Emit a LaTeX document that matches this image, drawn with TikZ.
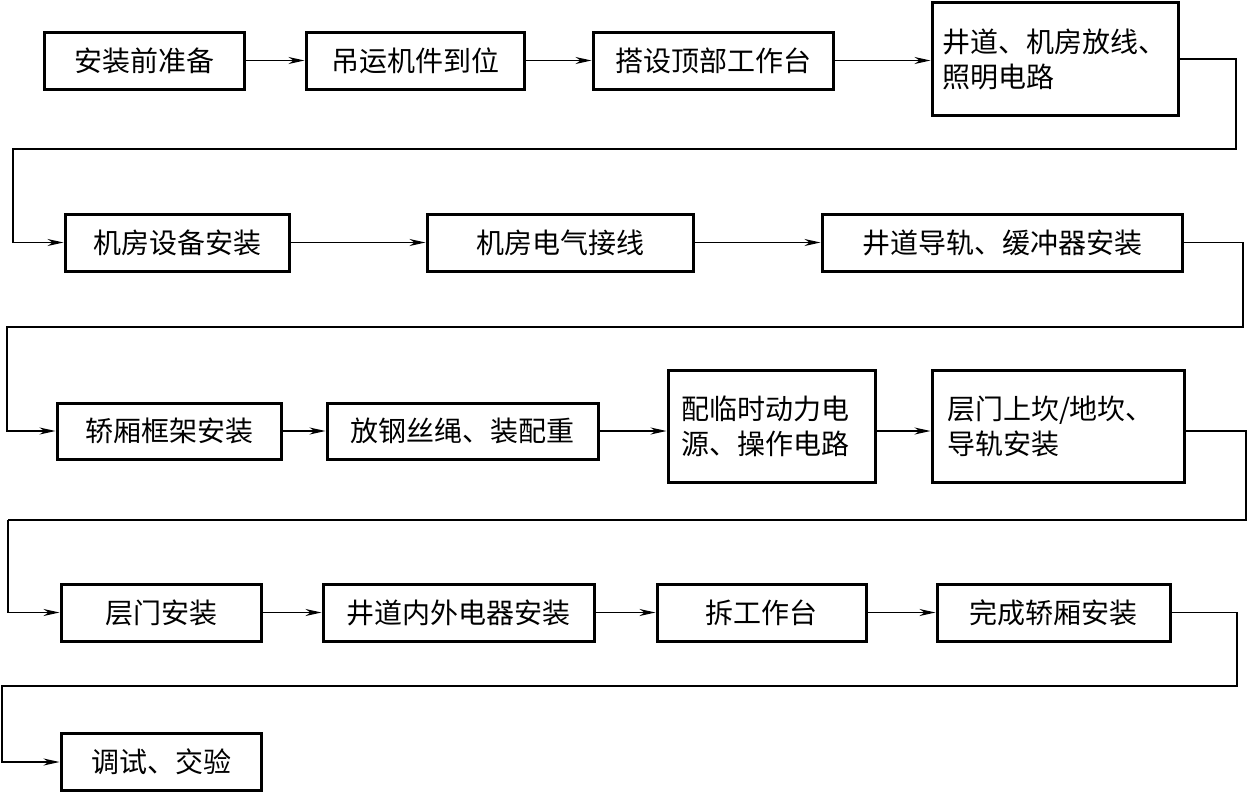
\documentclass[tikz,border=0pt]{standalone}
\usepackage{fontspec}
\newfontfamily\cjk{Noto Sans CJK SC}
\usetikzlibrary{arrows.meta}
\begin{document}
\begin{tikzpicture}[x=1pt,y=-1pt,
  box/.style={draw,line width=3pt,inner sep=0pt,font=\cjk\fontsize{28}{35}\selectfont,anchor=center},
  twoline/.style={box,align=left,text width=#1},
  link/.style={line width=1.3pt,-{Stealth[length=16pt,width=7pt,inset=5pt]}},
  plain/.style={line width=1.3pt}]
\useasboundingbox (0,0) rectangle (1248,793);
% row 1
\node[box,minimum width=200pt,minimum height=57pt] (a1) at (144,60.5) {安装前准备};
\node[box,minimum width=218pt,minimum height=57pt] (a2) at (415,60.5) {吊运机件到位};
\node[box,minimum width=240pt,minimum height=57pt] (a3) at (713,60.5) {搭设顶部工作台};
\node[twoline=226pt,minimum width=246pt,minimum height=113pt] (a4) at (1055,59) {井道、机房放线、\\照明电路};
% row 2
\node[box,minimum width=224pt,minimum height=57pt] (b1) at (177,242.5) {机房设备安装};
\node[box,minimum width=266pt,minimum height=57pt] (b2) at (560,242.5) {机房电气接线};
\node[box,minimum width=360pt,minimum height=57pt] (b3) at (1002,242.5) {井道导轨、缓冲器安装};
% row 3
\node[box,minimum width=224pt,minimum height=56pt] (c1) at (169,431) {轿厢框架安装};
\node[box,minimum width=271pt,minimum height=56pt] (c2) at (462.5,431) {放钢丝绳、装配重};
\node[twoline=180pt,minimum width=207pt,minimum height=112pt] (c3) at (771.5,426) {配临时动力电\\源、操作电路};
\node[twoline=222pt,minimum width=252pt,minimum height=112pt] (c4) at (1058,426) {层门上坎/地坎、\\导轨安装};
% row 4
\node[box,minimum width=200pt,minimum height=57pt] (d1) at (161,612.5) {层门安装};
\node[box,minimum width=271pt,minimum height=57pt] (d2) at (458.5,612.5) {井道内外电器安装};
\node[box,minimum width=209pt,minimum height=57pt] (d3) at (761.5,612.5) {拆工作台};
\node[box,minimum width=233pt,minimum height=57pt] (d4) at (1053.5,612.5) {完成轿厢安装};
% row 5
\node[box,minimum width=200pt,minimum height=57pt] (e1) at (161,762) {调试、交验};
% coordinates for loops
\coordinate (r1a) at (1236,59);
\coordinate (r1b) at (1236,149);
\coordinate (r1c) at (13,149);
\coordinate (r2a) at (1243,242.5);
\coordinate (r2b) at (1243,327);
\coordinate (r2c) at (7,327);
\coordinate (r3a) at (1246,431);
\coordinate (r3b) at (1246,520);
\coordinate (r3c) at (8,520);
\coordinate (r4a) at (1237,612.5);
\coordinate (r4b) at (1237,686);
\coordinate (r4c) at (2,686);
% connectors
\draw[link] (a1) -- (a2);
\draw[link] (a2) -- (a3);
\draw[link] (a3.east) -- (a3.east -| a4.west);
\draw[link] (a4.east) -- (r1a) -- (r1b) -- (r1c) |- (b1.west);
\draw[link] (b1) -- (b2);
\draw[link] (b2) -- (b3);
\draw[link] (b3.east) -- (r2a) -- (r2b) -- (r2c) |- (c1.west);
\draw[link] (c1) -- (c2);
\draw[link] (c2.east) -- (c2.east -| c3.west);
\draw[link] (c3.east |- c2.east) -- (c2.east -| c4.west);
\draw[plain] (c4.east |- c2.east) -- (r3a) -- (r3b) -- (r3c);
\draw[link] (r3c) |- (d1.west);
\draw[link] (d1) -- (d2);
\draw[link] (d2) -- (d3);
\draw[link] (d3) -- (d4);
\draw[link] (d4.east) -- (r4a) -- (r4b) -- (r4c) |- (e1.west);
\end{tikzpicture}
\end{document}
